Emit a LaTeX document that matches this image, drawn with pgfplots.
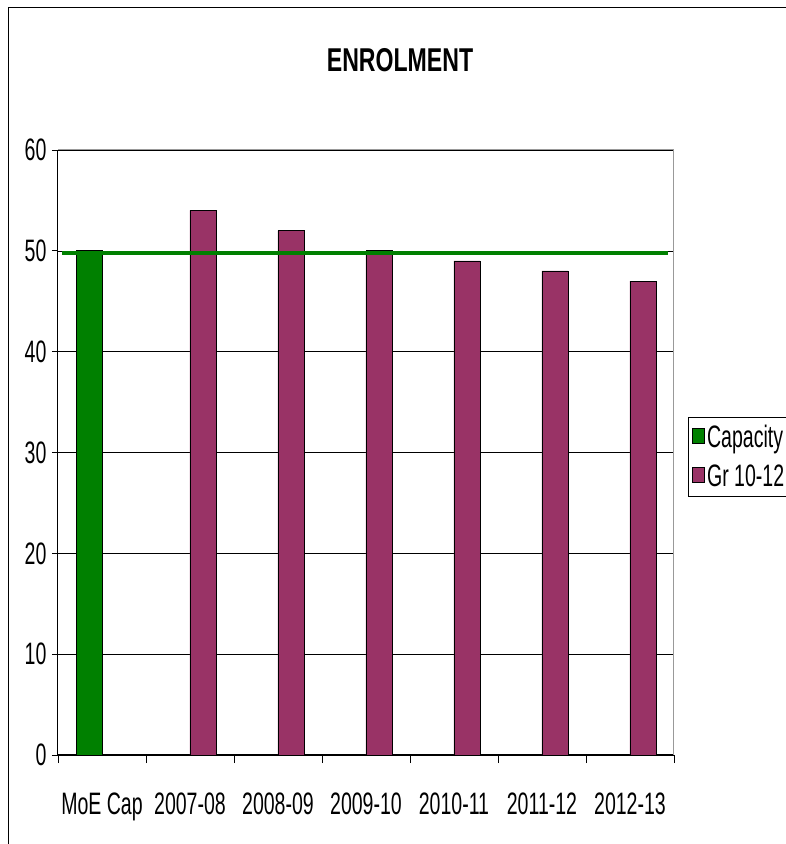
\documentclass[border=0pt]{standalone}
\usepackage{fontspec}
\setmainfont{Liberation Sans}[FakeStretch=0.63]
\newfontfamily\titlefont{Liberation Sans}[FakeStretch=0.7]
\usepackage{pgfplots}
\pgfplotsset{compat=1.18}
\definecolor{capgreen}{RGB}{0,128,0}
\definecolor{plum}{RGB}{153,51,102}
\begin{document}
\begin{tikzpicture}[x=1pt,y=1pt]
\useasboundingbox (0,0) rectangle (786,844);
\draw[black,line width=1pt] (8,0) -- (8,836) -- (786,836);
\node[font=\titlefont\fontsize{33}{36}\selectfont\bfseries] at (400,784) {ENROLMENT};
\begin{axis}[
    at={(58pt,89pt)}, anchor=south west,
    scale only axis, width=616pt, height=605pt,
    xmin=-0.5, xmax=6.5, ymin=0, ymax=60,
    ytick={0,10,...,60},
    xtick={0,...,6},
    xticklabels={MoE Cap,2007-08,2008-09,2009-10,2010-11,2011-12,2012-13},
    minor xtick={-0.5,0.5,...,6.5},
    major x tick style={draw=none},
    minor tick length=8pt, major tick length=6pt,
    tick align=outside,
    ymajorgrids, grid style={black, line width=0.6pt},
    axis line style={gray!80, line width=1pt},
    axis x line*=bottom, axis y line*=left,
    separate axis lines,
    x axis line style={black}, y axis line style={black},
    tick style={black, line width=0.8pt},
    ticklabel style={font=\fontsize{31}{34}\selectfont},
    /pgf/number format/assume math mode=true,
    xticklabel style={yshift=-28pt},
    yticklabel style={xshift=-2pt},
    ybar, bar width=26pt,
    legend style={at={(1.0227,0.493)}, anchor=west, draw=black, line width=0.6pt,
      font=\fontsize{31}{34}\selectfont, row sep=12pt, inner xsep=4pt, inner ysep=6pt},
    legend image code/.code={\draw[#1,draw=black] (0pt,-6pt) rectangle (12pt,9pt);},
    legend cell align=left,
    clip=false,
]
\addplot[fill=capgreen, draw=black, line width=0.8pt, bar shift=-13pt]
  coordinates {(0,50)};
\addlegendentry{Capacity}
\addplot[fill=plum, draw=black, line width=0.8pt, bar shift=13pt]
  coordinates {(1,54) (2,52) (3,50) (4,49) (5,48) (6,47)};
\addlegendentry{Gr 10-12}
\addplot[sharp plot, capgreen, line width=4pt, forget plot]
  coordinates {(-0.45,49.8) (6.43,49.8)};
\draw[gray!80, line width=1pt] (rel axis cs:0,1) -- (rel axis cs:1,1) -- (rel axis cs:1,0);
\end{axis}
\end{tikzpicture}
\end{document}
